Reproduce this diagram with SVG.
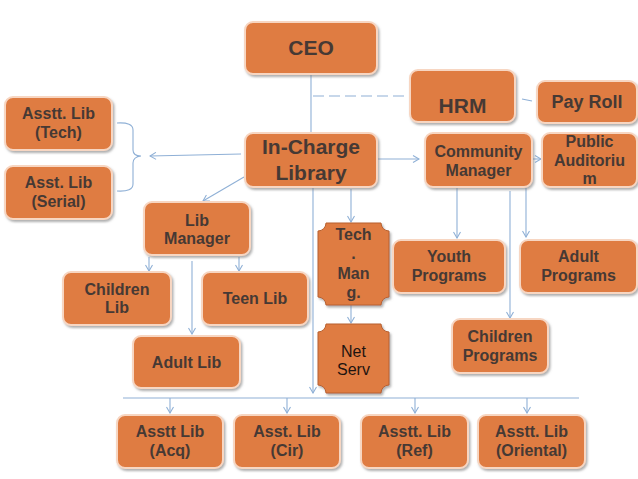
<svg xmlns="http://www.w3.org/2000/svg" width="638" height="479" viewBox="0 0 638 479">
<defs>
<filter id="sh" x="-10%" y="-10%" width="125%" height="130%">
<feDropShadow dx="1.5" dy="2" stdDeviation="1.2" flood-color="#7a7a7a" flood-opacity="0.6"/>
</filter>
<marker id="ar" viewBox="0 0 8 8" refX="7" refY="4" markerWidth="8" markerHeight="8" markerUnits="userSpaceOnUse" orient="auto">
<path d="M1,0.5 L7,4 L1,7.5" fill="none" stroke="#8FB0D6" stroke-width="1.1"/>
</marker>
</defs>
<style>
.b{fill:#DF7C43;stroke:#F7D6C2;stroke-width:2;filter:url(#sh)}
.p{fill:#DF7C43;stroke:#B8612F;stroke-width:1;filter:url(#sh)}
.t{font-family:"Liberation Sans",Arial,sans-serif;font-weight:bold;font-size:16px;fill:#463934;text-anchor:middle}
.l{font-size:21px}
.m{font-size:18px}
.n{font-weight:normal;fill:#1e1410}
.c{fill:none;stroke:#8FB0D6;stroke-width:1.1}
.a{marker-end:url(#ar)}
</style>
<rect width="638" height="479" fill="#ffffff"/>
<g id="connectors">
<line class="c" x1="311" y1="74" x2="311" y2="133"/>
<line class="c" x1="313" y1="96" x2="408" y2="96" stroke-dasharray="11 5"/>
<line class="c" x1="522" y1="99" x2="532" y2="101"/>
<line class="c a" x1="241" y1="154" x2="150" y2="156"/>
<path class="c" d="M117,123 Q133,122 133,130 L133,150 Q133,156 141,156 Q133,157 133,163 L133,184 Q133,192 117,191"/>
<line class="c a" x1="244" y1="177" x2="203" y2="201"/>
<line class="c a" x1="378" y1="159" x2="419" y2="159"/>
<line class="c a" x1="532" y1="159" x2="541" y2="159"/>
<line class="c a" x1="351" y1="189" x2="351" y2="222"/>
<line class="c a" x1="351" y1="305" x2="351" y2="323"/>
<line class="c a" x1="313" y1="187" x2="313" y2="393"/>
<line class="c a" x1="457" y1="188" x2="457" y2="238"/>
<line class="c a" x1="526" y1="188" x2="526" y2="237"/>
<line class="c a" x1="510" y1="191" x2="510" y2="318"/>
<line class="c a" x1="149" y1="257" x2="149" y2="271"/>
<line class="c a" x1="239" y1="257" x2="239" y2="271"/>
<line class="c a" x1="192" y1="261" x2="192" y2="334"/>
<line class="c" x1="123" y1="398" x2="579" y2="398"/>
<line class="c a" x1="170" y1="398" x2="170" y2="413"/>
<line class="c a" x1="287" y1="398" x2="287" y2="413"/>
<line class="c a" x1="415" y1="398" x2="415" y2="413"/>
<line class="c a" x1="527" y1="398" x2="527" y2="413"/>
</g>
<g id="ceo"><rect class="b" x="245" y="22" width="132" height="52" rx="8"/><text class="t l" x="311" y="55">CEO</text></g>
<g id="hrm"><rect class="b" x="410" y="70" width="105" height="52" rx="8"/><text class="t l" x="462.5" y="113">HRM</text></g>
<g id="payroll"><rect class="b" x="537" y="81" width="100" height="42" rx="8"/><text class="t m" x="587" y="108">Pay Roll</text></g>
<g id="asst-tech"><rect class="b" x="5" y="97" width="107" height="53" rx="8"/><text class="t" x="58.5" y="119">Asstt. Lib</text><text class="t" x="58.5" y="138">(Tech)</text></g>
<g id="asst-serial"><rect class="b" x="5" y="166" width="107" height="53" rx="8"/><text class="t" x="58.5" y="188">Asst. Lib</text><text class="t" x="58.5" y="207">(Serial)</text></g>
<g id="incharge"><rect class="b" x="245" y="133" width="132" height="54" rx="8"/><text class="t l" x="311" y="154">In-Charge</text><text class="t l" x="311" y="180">Library</text></g>
<g id="community"><rect class="b" x="425" y="133" width="107" height="54" rx="8"/><text class="t" x="478.5" y="157">Community</text><text class="t" x="478.5" y="176">Manager</text></g>
<g id="auditorium"><rect class="b" x="542" y="133" width="95" height="54" rx="8"/><text class="t" x="589.5" y="147">Public</text><text class="t" x="589.5" y="166">Auditoriu</text><text class="t" x="589.5" y="184">m</text></g>
<g id="libmanager"><rect class="b" x="144" y="202" width="106" height="53" rx="8"/><text class="t" x="197" y="226">Lib</text><text class="t" x="197" y="244">Manager</text></g>
<g id="techmang"><path class="p" d="M326,223 L381,223 A8,8 0 0 0 389,231 L389,297 A8,8 0 0 0 381,305 L326,305 A8,8 0 0 0 318,297 L318,231 A8,8 0 0 0 326,223 Z"/><text class="t" x="353.5" y="240">Tech</text><text class="t" x="353.5" y="259">.</text><text class="t" x="353.5" y="279">Man</text><text class="t" x="353.5" y="298">g.</text></g>
<g id="youth"><rect class="b" x="393" y="240" width="112" height="53" rx="8"/><text class="t" x="449" y="262">Youth</text><text class="t" x="449" y="281">Programs</text></g>
<g id="adultprog"><rect class="b" x="520" y="240" width="117" height="53" rx="8"/><text class="t" x="578.5" y="262">Adult</text><text class="t" x="578.5" y="281">Programs</text></g>
<g id="childrenlib"><rect class="b" x="63" y="272" width="108" height="53" rx="8"/><text class="t" x="117" y="295">Children</text><text class="t" x="117" y="313">Lib</text></g>
<g id="teenlib"><rect class="b" x="202" y="272" width="106" height="53" rx="8"/><text class="t" x="255" y="304">Teen Lib</text></g>
<g id="netserv"><path class="p" d="M326,324 L381,324 A8,8 0 0 0 389,332 L389,385 A8,8 0 0 0 381,393 L326,393 A8,8 0 0 0 318,385 L318,332 A8,8 0 0 0 326,324 Z"/><text class="t n" x="353.5" y="357">Net</text><text class="t n" x="353.5" y="375">Serv</text></g>
<g id="childrenprog"><rect class="b" x="452" y="319" width="96" height="54" rx="8"/><text class="t" x="500" y="342">Children</text><text class="t" x="500" y="361">Programs</text></g>
<g id="adultlib"><rect class="b" x="133" y="336" width="107" height="52" rx="8"/><text class="t" x="186.5" y="368">Adult Lib</text></g>
<g id="acq"><rect class="b" x="117" y="415" width="106" height="53" rx="8"/><text class="t" x="170" y="437">Asstt Lib</text><text class="t" x="170" y="456">(Acq)</text></g>
<g id="cir"><rect class="b" x="234" y="415" width="106" height="53" rx="8"/><text class="t" x="287" y="437">Asst. Lib</text><text class="t" x="287" y="456">(Cir)</text></g>
<g id="ref"><rect class="b" x="361" y="415" width="107" height="53" rx="8"/><text class="t" x="414.5" y="437">Asstt. Lib</text><text class="t" x="414.5" y="456">(Ref)</text></g>
<g id="oriental"><rect class="b" x="478" y="415" width="107" height="53" rx="8"/><text class="t" x="531.5" y="437">Asstt. Lib</text><text class="t" x="531.5" y="456">(Oriental)</text></g>
</svg>
